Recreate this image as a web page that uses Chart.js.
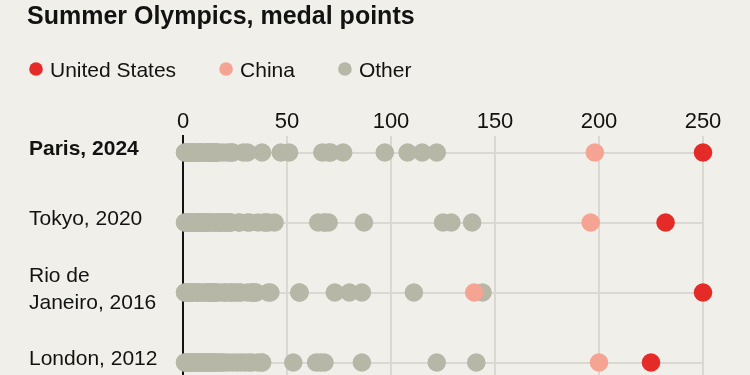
<!DOCTYPE html>
<html>
<head>
    <title>Summer Olympics, medal points</title>
    <script src="https://cdn.jsdelivr.net/npm/chart.js"></script>
    <style>
        body {
            margin: 0;
            padding: 0;
            overflow: hidden;
            background-color: #f0efea;
        }
        #chart-container {
            position: relative;
            width: 750px;
            height: 375px;
        }
    </style>
</head>
<body>
    <div id="chart-container">
        <canvas id="myChart"></canvas>
    </div>

    <script>
        // Juegos (filas) y puntos: oro 3, plata 2, bronce 1
        const games = ['Paris, 2024', 'Tokyo, 2020', ['Rio de', 'Janeiro, 2016'], 'London, 2012'];
        const usPoints = [250, 232, 250, 225];
        const chinaPoints = [198, 196, 140, 200];

        const otherParis = [122, 115, 108, 97, 77, 71, 70, 67, 51, 47, 38, 31, 29, 24, 23, 23, 21, 19, 17, 16, 16,
            15, 15, 15, 14, 14, 14, 13, 13, 12, 12, 12, 11, 11, 11, 11, 9, 8, 8, 8, 8, 7, 6, 5, 5, 4, 4, 3, 3, 3, 2, 2, 1, 1];
        const otherTokyo = [139, 129, 125, 87, 70, 68, 68, 65, 44, 41, 40, 39, 36, 32, 31, 27, 27, 23, 23, 22, 21, 21,
            20, 19, 18, 18, 17, 17, 16, 15, 14, 13, 12, 12, 11, 11, 10, 10, 9, 9, 9, 9, 8, 8, 8, 8, 7, 7, 6, 6, 5, 4, 4, 3, 3, 2, 2, 1, 1];
        const otherRio = [144, 111, 86, 80, 73, 56, 56, 42, 41, 35, 35, 34, 33, 33, 31, 28, 27, 26, 25, 23, 23, 23, 21,
            20, 20, 18, 16, 16, 15, 15, 15, 14, 14, 13, 13, 12, 12, 12, 11, 10, 9, 8, 7, 7, 6, 5, 4, 4, 3, 3, 2, 2, 1, 1];
        const otherLondon = [141, 122, 86, 68, 66, 64, 53, 38, 38, 36, 33, 32, 30, 28, 26, 24, 22, 20, 19, 18, 17, 16,
            15, 14, 14, 13, 12, 12, 11, 10, 10, 9, 8, 8, 7, 7, 6, 5, 5, 4, 3, 3, 2, 2, 1, 1];
        const otherPoints = [otherParis, otherTokyo, otherRio, otherLondon];

        const xTicks = [0, 50, 100, 150, 200, 250];
        const seriesNames = ['United States', 'China', 'Other'];
        const seriesColors = ['#e42b28', '#f5a392', '#b7b7a8'];

        const FONT = "'Liberation Sans', Arial, sans-serif";
        const INK = '#121212';
        const GRID = '#d9d8d2';

        const toPoints = (vals) => vals.map((v, i) => ({ x: v, y: i }));
        const otherData = [];
        otherPoints.forEach((row, i) => row.forEach(v => otherData.push({ x: v, y: i })));

        // Título y leyenda dibujados a mano arriba
        const header = {
            id: 'header',
            beforeDraw(chart) {
                const c = chart.ctx;
                c.save();
                c.fillStyle = '#f0efea';
                c.fillRect(0, 0, chart.width, chart.height);
                c.restore();
            },
            afterDraw(chart) {
                const c = chart.ctx;
                c.save();
                c.fillStyle = INK;
                c.textBaseline = 'alphabetic';
                c.font = 'bold 25px ' + FONT;
                c.fillText('Summer Olympics, medal points', 27, 24);

                c.font = '21px ' + FONT;
                let x = 29;
                seriesNames.forEach((name, i) => {
                    c.fillStyle = seriesColors[i];
                    c.beginPath();
                    c.arc(x + 7, 69, 6.8, 0, Math.PI * 2);
                    c.fill();
                    c.fillStyle = INK;
                    c.fillText(name, x + 21, 76.5);
                    x += 21 + c.measureText(name).width + 43;
                });
                c.restore();
            }
        };

        const ctx = document.getElementById('myChart');

        new Chart(ctx, {
            type: 'scatter',
            data: {
                datasets: [{
                    label: seriesNames[0],
                    data: toPoints(usPoints),
                    backgroundColor: seriesColors[0]
                }, {
                    label: seriesNames[1],
                    data: toPoints(chinaPoints),
                    backgroundColor: seriesColors[1]
                }, {
                    label: seriesNames[2],
                    data: otherData,
                    backgroundColor: seriesColors[2]
                }]
            },
            options: {
                responsive: true,
                maintainAspectRatio: false,
                animation: false,
                events: [],
                layout: {
                    autoPadding: false,
                    padding: { left: 29, right: 47, top: 96, bottom: 0 }
                },
                elements: {
                    point: {
                        radius: 9.3,
                        hoverRadius: 9.3,
                        borderWidth: 0
                    }
                },
                datasets: {
                    scatter: { clip: false }
                },
                plugins: {
                    legend: { display: false },
                    tooltip: { enabled: false }
                },
                scales: {
                    x: {
                        type: 'linear',
                        position: 'top',
                        min: 0,
                        max: 250,
                        afterBuildTicks: (s) => { s.ticks = xTicks.map(v => ({ value: v })); },
                        afterFit: (s) => {
                            s.height = 40;
                            s.paddingLeft = 0;
                            s.paddingRight = 0;
                        },
                        border: { display: false },
                        grid: {
                            color: (c) => c.tick && c.tick.value === 0 ? 'rgba(0,0,0,0)' : GRID,
                            lineWidth: 2,
                            drawTicks: false
                        },
                        ticks: {
                            color: INK,
                            padding: 1,
                            maxRotation: 0,
                            font: { family: FONT, size: 22 }
                        }
                    },
                    y: {
                        type: 'linear',
                        reverse: true,
                        min: -0.236,
                        max: 3.178,
                        afterBuildTicks: (s) => { s.ticks = games.map((g, i) => ({ value: i })); },
                        afterFit: (s) => {
                            s.width = 154;
                            s.paddingTop = 0;
                            s.paddingBottom = 0;
                        },
                        border: { display: true, color: INK, width: 2 },
                        grid: {
                            color: GRID,
                            lineWidth: 2,
                            drawTicks: false
                        },
                        ticks: {
                            color: INK,
                            padding: 0,
                            crossAlign: 'far',
                            labelOffset: -3,
                            callback: (v) => games[v],
                            font: (c) => ({
                                family: FONT,
                                size: 21,
                                lineHeight: 1.27,
                                weight: c.index === 0 ? 'bold' : 'normal'
                            })
                        }
                    }
                }
            },
            plugins: [header]
        });
    </script>
</body>
</html>
